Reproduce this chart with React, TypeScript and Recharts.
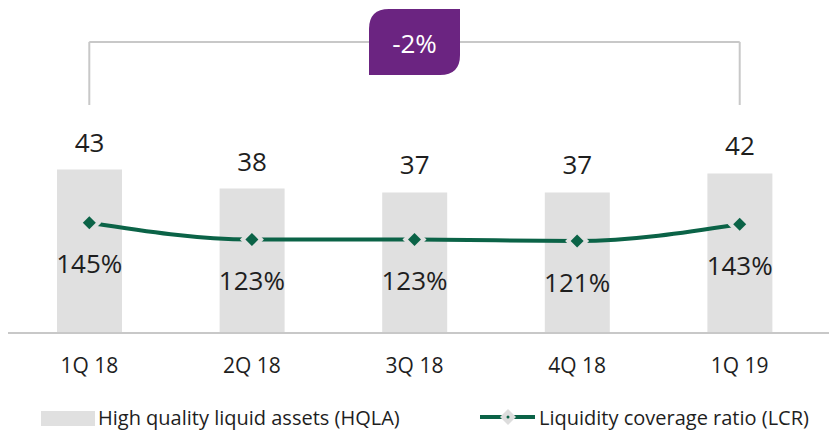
import {
  Bar,
  ComposedChart,
  LabelList,
  Line,
  ReferenceDot,
  ReferenceLine,
  XAxis,
  YAxis,
} from 'recharts'

const QUARTERS = ['1Q 18', '2Q 18', '3Q 18', '4Q 18', '1Q 19']
const HQLA = [43, 38, 37, 37, 42]
const LCR = [145, 123, 123, 121, 143]
const CHANGE_LABEL = '-2%'

// bracket annotation, in HQLA axis units
const BRACKET_TOP = 76.6
const BRACKET_BOTTOM = 60

const BAR_COLOR = '#e0e0e0'
const LINE_COLOR = '#0b6347'
const BADGE_COLOR = '#6b2481'
const BRACKET_COLOR = '#c8c8c8'
const TEXT_COLOR = '#1e1e1e'
const FONT = '"Open Sans", sans-serif'

const data = QUARTERS.map((q, i) => ({ quarter: q, hqla: HQLA[i], lcr: LCR[i] }))

function Diamond({ cx, cy }: { cx?: number; cy?: number }) {
  if (cx == null || cy == null) return null
  const halo = 12
  const r = 6.5
  return (
    <g>
      <path
        d={`M${cx},${cy - halo}L${cx + halo},${cy}L${cx},${cy + halo}L${cx - halo},${cy}Z`}
        fill={BAR_COLOR}
      />
      <path
        d={`M${cx},${cy - r}L${cx + r},${cy}L${cx},${cy + r}L${cx - r},${cy}Z`}
        fill={LINE_COLOR}
      />
    </g>
  )
}

function Badge({ cx, cy }: { cx?: number; cy?: number }) {
  if (cx == null || cy == null) return null
  const w = 91
  const h = 66
  const r = 20
  const x0 = cx - w / 2
  const y0 = cy - h / 2
  const x1 = x0 + w
  const y1 = y0 + h
  const d = `M${x0},${y0 + r}Q${x0},${y0} ${x0 + r},${y0}L${x1},${y0}L${x1},${y1 - r}Q${x1},${y1} ${x1 - r},${y1}L${x0},${y1}Z`
  return (
    <g>
      <path d={d} fill={BADGE_COLOR} />
      <text
        x={cx}
        y={cy + 11}
        textAnchor="middle"
        fill="#ffffff"
        fontSize={26}
        fontFamily={FONT}
      >
        {CHANGE_LABEL}
      </text>
    </g>
  )
}

function ChartLegend() {
  return (
    <svg
      width={829}
      height={31}
      style={{ position: 'absolute', left: 0, top: 400 }}
    >
      <rect x={41} y={11} width={54} height={15} fill={BAR_COLOR} />
      <text x={98} y={25} fontSize={20} fontFamily={FONT} fill={TEXT_COLOR}>
        High quality liquid assets (HQLA)
      </text>
      <line x1={480} y1={17} x2={535} y2={17} stroke={LINE_COLOR} strokeWidth={4} />
      <path d="M508,9L516,17L508,25L500,17Z" fill="#dddddd" />
      <circle cx={508} cy={17} r={1.5} fill={LINE_COLOR} />
      <text x={539} y={25} fontSize={20} fontFamily={FONT} fill={TEXT_COLOR}>
        Liquidity coverage ratio (LCR)
      </text>
    </svg>
  )
}

export default function App() {
  return (
    <div
      style={{
        position: 'absolute',
        left: 0,
        top: 0,
        width: 829,
        height: 431,
        background: '#ffffff',
        fontFamily: FONT,
      }}
    >
      <ComposedChart
        width={829}
        height={431}
        data={data}
        margin={{ top: 105, right: 0, bottom: 68, left: 8 }}
      >
        <XAxis
          dataKey="quarter"
          height={30}
          axisLine={{ stroke: BRACKET_COLOR, strokeWidth: 2 }}
          tickLine={false}
          tickSize={0}
          tickMargin={25}
          padding={{ left: 0, right: 8 }}
          tick={{ fontSize: 21, fill: TEXT_COLOR, fontFamily: FONT }}
        />
        <YAxis yAxisId="left" domain={[0, 60]} hide />
        <YAxis yAxisId="right" orientation="right" domain={[0, 300]} hide />
        <Bar
          yAxisId="left"
          dataKey="hqla"
          barSize={65}
          fill={BAR_COLOR}
          isAnimationActive={false}
        >
          <LabelList
            dataKey="hqla"
            position="top"
            offset={18}
            fontSize={26}
            fill={TEXT_COLOR}
            fontFamily={FONT}
          />
        </Bar>
        <Line
          yAxisId="right"
          dataKey="lcr"
          type="monotone"
          stroke={LINE_COLOR}
          strokeWidth={4}
          dot={<Diamond />}
          activeDot={false}
          isAnimationActive={false}
        >
          <LabelList
            dataKey="lcr"
            position="bottom"
            offset={32}
            fontSize={26}
            fill={TEXT_COLOR}
            fontFamily={FONT}
            formatter={(v: number) => `${v}%`}
          />
        </Line>
        <ReferenceLine
          yAxisId="left"
          ifOverflow="visible"
          stroke={BRACKET_COLOR}
          strokeWidth={2}
          segment={[
            { x: QUARTERS[0], y: BRACKET_BOTTOM },
            { x: QUARTERS[0], y: BRACKET_TOP },
          ]}
        />
        <ReferenceLine
          yAxisId="left"
          ifOverflow="visible"
          stroke={BRACKET_COLOR}
          strokeWidth={2}
          segment={[
            { x: QUARTERS[0], y: BRACKET_TOP },
            { x: QUARTERS[4], y: BRACKET_TOP },
          ]}
        />
        <ReferenceLine
          yAxisId="left"
          ifOverflow="visible"
          stroke={BRACKET_COLOR}
          strokeWidth={2}
          segment={[
            { x: QUARTERS[4], y: BRACKET_BOTTOM },
            { x: QUARTERS[4], y: BRACKET_TOP },
          ]}
        />
        <ReferenceDot
          yAxisId="left"
          x={QUARTERS[2]}
          y={BRACKET_TOP}
          ifOverflow="visible"
          shape={<Badge />}
        />
      </ComposedChart>
      <ChartLegend />
    </div>
  )
}
